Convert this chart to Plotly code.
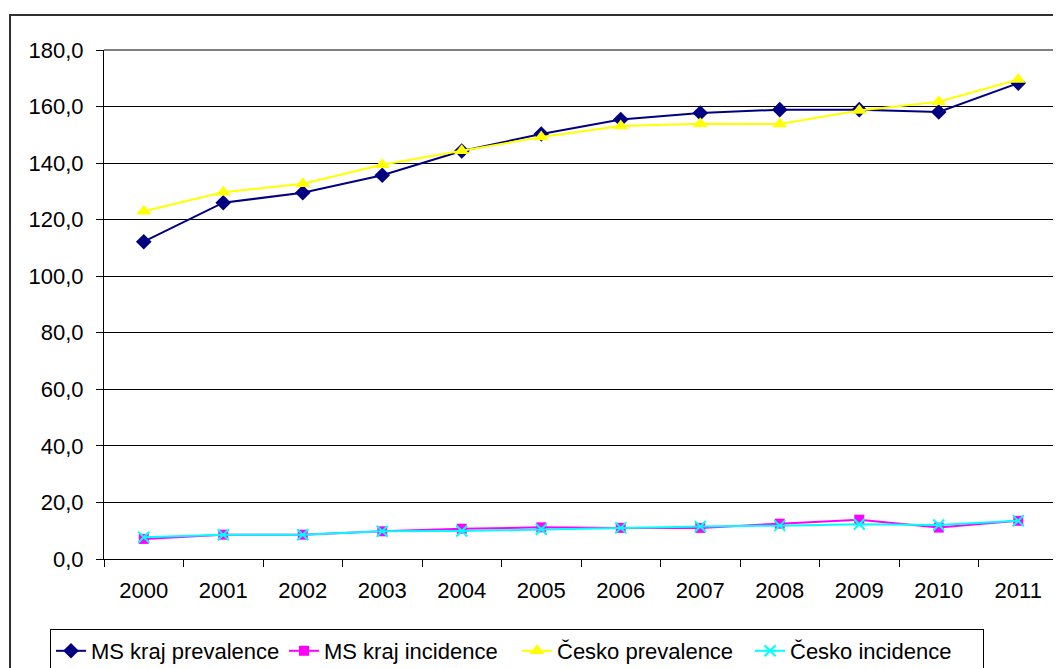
import plotly.graph_objects as go

years = ["2000", "2001", "2002", "2003", "2004", "2005", "2006", "2007", "2008", "2009", "2010", "2011"]
ms_prevalence = [112.2, 126.0, 129.5, 135.7, 144.3, 150.3, 155.4, 157.7, 158.9, 158.9, 158.1, 168.3]
ms_incidence = [7.1, 8.6, 8.6, 9.8, 10.7, 11.2, 11.0, 11.0, 12.5, 13.9, 11.1, 13.5]
cz_prevalence = [123.0, 129.7, 132.7, 139.4, 144.4, 149.2, 153.1, 153.9, 153.8, 158.6, 161.7, 169.6]
cz_incidence = [7.7, 8.6, 8.6, 9.8, 9.9, 10.5, 11.0, 11.5, 11.8, 12.3, 12.0, 13.5]

FONT = "Liberation Sans, Arial, sans-serif"
FS = 22
W, H = 1053, 660  # page body has an 8px margin

fig = go.Figure()
fig.add_trace(go.Scatter(
    x=years, y=ms_prevalence, name="MS kraj prevalence", mode="lines+markers",
    line=dict(color="#000080", width=2),
    marker=dict(symbol="diamond", size=12, color="#000080"),
))
fig.add_trace(go.Scatter(
    x=years, y=ms_incidence, name="MS kraj incidence", mode="lines+markers",
    line=dict(color="#FF00FF", width=2),
    marker=dict(symbol="square", size=10, color="#FF00FF"),
))
fig.add_trace(go.Scatter(
    x=years, y=cz_prevalence, name="Česko prevalence", mode="lines+markers",
    line=dict(color="#FFFF00", width=2),
    marker=dict(symbol="triangle-up", size=13, color="#FFFF00"),
))
fig.add_trace(go.Scatter(
    x=years, y=cz_incidence, name="Česko incidence", mode="lines+markers",
    line=dict(color="#00FFFF", width=2),
    marker=dict(symbol="x-thin", size=11, color="#00FFFF", line=dict(color="#00FFFF", width=2)),
))

fig.update_layout(
    width=W, height=H,
    margin=dict(l=96, r=3, t=42, b=109, autoexpand=False),
    paper_bgcolor="white", plot_bgcolor="white",
    separators=", ",
    font=dict(family=FONT, size=FS, color="black"),
    showlegend=True,
    legend=dict(
        orientation="h", xref="container", yref="container",
        x=42 / W, xanchor="left", y=1 - 621 / H, yanchor="top",
        bordercolor="black", borderwidth=1, bgcolor="white",
        font=dict(family=FONT, size=FS, color="black"),
        itemwidth=30, tracegroupgap=0,
        entrywidth=188, entrywidthmode="pixels",
    ),
    xaxis=dict(
        type="category", range=[-0.5, 11.5], tickson="boundaries",
        ticks="outside", ticklen=7, tickcolor="black", tickwidth=1,
        showline=True, linecolor="black", linewidth=1,
        showgrid=False, ticklabelstandoff=12,
        tickfont=dict(family=FONT, size=FS, color="black"),
    ),
    yaxis=dict(
        range=[0, 180], dtick=20, tick0=0, tickformat=".1f",
        ticks="outside", ticklen=7, tickcolor="black", tickwidth=1,
        showline=True, linecolor="black", linewidth=1,
        showgrid=True, gridcolor="black", gridwidth=1,
        zeroline=False, ticklabelstandoff=8,
        tickfont=dict(family=FONT, size=FS, color="black"),
    ),
    shapes=[
        dict(type="line", xref="paper", yref="paper", x0=0, x1=1, y0=1, y1=1,
             line=dict(color="#808080", width=2), layer="above"),
        dict(type="line", xref="paper", yref="paper", x0=1, x1=1, y0=0, y1=1,
             line=dict(color="#808080", width=2), layer="above"),
        dict(type="rect", xref="paper", yref="paper", x0=-0.0985, x1=1.2, y0=-0.6, y1=1.0688,
             line=dict(color="#303030", width=2), fillcolor="rgba(0,0,0,0)", layer="below"),
    ],
)

fig.write_html("out.html")
